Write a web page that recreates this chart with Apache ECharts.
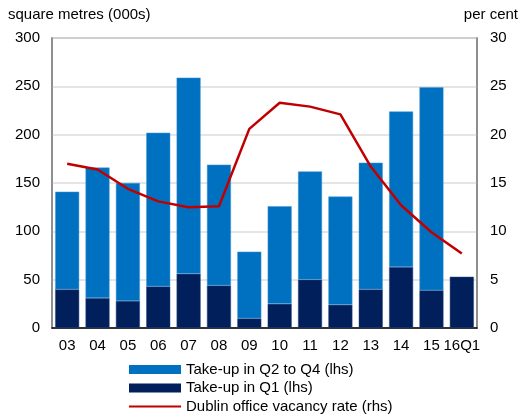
<!DOCTYPE html>
<html>
<head>
<meta charset="utf-8">
<script src="https://cdn.jsdelivr.net/npm/echarts@6/dist/echarts.min.js"></script>
<style>
html,body{margin:0;padding:0;background:#fff;}
#diagram{width:523px;height:416px;}
</style>
</head>
<body>
<div id="diagram"></div>
<script>
var years = ['03','04','05','06','07','08','09','10','11','12','13','14','15','16Q1'];
// take-up in Q1 (000s sq m)
var takeupQ1 = [40, 31, 28, 43, 56, 44, 10, 25, 50, 24, 40, 63, 39, 53];
// take-up in Q2 to Q4 (000s sq m), stacked on Q1
var takeupRest = [101, 135, 122, 159, 203, 125, 69, 101, 112, 112, 131, 161, 210, null];
// vacancy rate, per cent
var vacancy = [17.0, 16.4, 14.4, 13.1, 12.5, 12.6, 20.6, 23.3, 22.9, 22.1, 16.7, 12.7, 9.9, 7.7];

var font = 'Liberation Sans, Arial, sans-serif';
// thin line icon for the legend (corner specks keep the box size)
var lineIcon = 'path://M0,0L0.01,0L0.01,0.01ZM0,3.4L52,3.4L52,5.6L0,5.6ZM0,9L0.01,9L0.01,8.99Z';

var option = {
	animation: false,
	backgroundColor: '#fff',
	textStyle: { fontFamily: font },
	grid: {
		left: 52, right: 46, top: 38, bottom: 88,
		show: true,
		borderColor: '#888',
		borderWidth: 1.5
	},
	legend: {
		orient: 'vertical',
		left: 129,
		top: 362,
		padding: 0,
		itemWidth: 52,
		itemHeight: 9,
		itemGap: 3.5,
		itemStyle: { borderWidth: 0 },
		textStyle: { fontSize: 15, color: '#000', fontFamily: font },
		data: [
			{ name: 'Take-up in Q2 to Q4 (lhs)', icon: 'rect' },
			{ name: 'Take-up in Q1 (lhs)', icon: 'rect' },
			{ name: 'Dublin office vacancy rate (rhs)', icon: lineIcon }
		]
	},
	xAxis: {
		type: 'category',
		data: years,
		axisTick: { show: false },
		axisLine: { lineStyle: { color: '#000', width: 1.5 } },
		axisLabel: { fontSize: 15, color: '#000', margin: 10, interval: 0 }
	},
	yAxis: [
		{
			type: 'value',
			min: 0, max: 300, interval: 50,
			name: 'square metres (000s)',
			nameLocation: 'end',
			nameGap: 16,
			nameTextStyle: { fontSize: 15, color: '#000', align: 'left', padding: [0, 0, 0, -44] },
			axisLine: { show: true, lineStyle: { color: '#888', width: 1.5 } },
			axisTick: { show: false },
			axisLabel: { fontSize: 15, color: '#000', margin: 12 },
			splitLine: { lineStyle: { color: '#ddd', width: 1.5 } }
		},
		{
			type: 'value',
			min: 0, max: 30, interval: 5,
			name: 'per cent',
			nameLocation: 'end',
			nameGap: 16,
			nameTextStyle: { fontSize: 15, color: '#000', align: 'right', padding: [0, -41, 0, 0] },
			axisLine: { show: true, lineStyle: { color: '#888', width: 1.5 } },
			axisTick: { show: false },
			axisLabel: { fontSize: 15, color: '#000', margin: 13 },
			splitLine: { show: false }
		}
	],
	series: [
		{
			name: 'Take-up in Q1 (lhs)',
			type: 'bar',
			stack: 'takeup',
			barWidth: 24,
			itemStyle: { color: '#001F5B', borderColor: '#2a4a80', borderWidth: 0.5 },
			data: takeupQ1
		},
		{
			name: 'Take-up in Q2 to Q4 (lhs)',
			type: 'bar',
			stack: 'takeup',
			barWidth: 24,
			itemStyle: { color: '#0070C0', borderColor: '#4a9ad6', borderWidth: 0.5 },
			data: takeupRest
		},
		{
			name: 'Dublin office vacancy rate (rhs)',
			type: 'line',
			yAxisIndex: 1,
			symbol: 'none',
			lineStyle: { color: '#C00000', width: 2.5 },
			itemStyle: { color: '#C00000' },
			z: 5,
			data: vacancy
		}
	]
};

var myChart = echarts.init(document.getElementById('diagram'));
myChart.setOption(option);
</script>
</body>
</html>
